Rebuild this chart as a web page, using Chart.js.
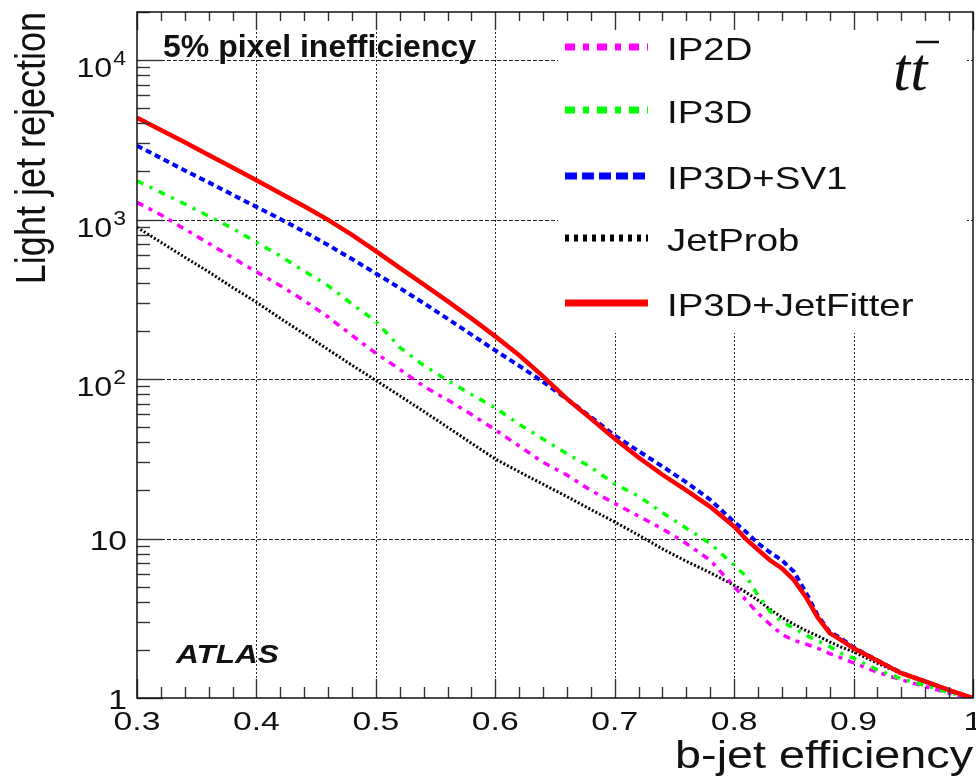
<!DOCTYPE html>
<html>
<head>
<meta charset="utf-8">
<script src="https://cdn.jsdelivr.net/npm/chart.js@4.4.0/dist/chart.umd.min.js"></script>
<style>
  body { margin: 0; background: #fff; }
</style>
</head>
<body>
<canvas id="rocChart" width="976" height="782"></canvas>
<script>
// b-jet efficiency sampling points
const effs = [0.30, 0.32, 0.34, 0.36, 0.38, 0.40, 0.42, 0.44, 0.46, 0.48,
  0.50, 0.52, 0.54, 0.56, 0.58, 0.60, 0.62, 0.64, 0.66, 0.68,
  0.70, 0.72, 0.74, 0.76, 0.78, 0.80, 0.81, 0.82, 0.83, 0.84,
  0.85, 0.86, 0.87, 0.88, 0.89, 0.90, 0.92, 0.94, 0.96, 0.98, 1.00];

// light jet rejection
const ip2d = [1280, 1070, 870, 710, 575, 470, 385, 310, 245, 188,
  145, 115, 90, 74, 60, 48, 38, 30, 25, 20,
  16.6, 13.8, 11.5, 9.3, 7.3, 5.0, 4.1, 3.4, 2.9, 2.5,
  2.3, 2.18, 2.05, 1.9, 1.78, 1.66, 1.45, 1.3, 1.18, 1.07, 1.0];
const ip3d = [1750, 1480, 1250, 1050, 880, 720, 590, 475, 385, 295,
  230, 158, 122, 98, 80, 66, 52, 42, 34, 28,
  22, 18.4, 14.5, 11.6, 9.3, 6.8, 5.8, 4.4, 3.5, 3.0,
  2.75, 2.48, 2.28, 2.1, 1.9, 1.78, 1.5, 1.32, 1.2, 1.08, 1.0];
const ip3dSv1 = [2900, 2430, 2030, 1710, 1430, 1200, 1007, 838, 692, 565,
  459, 372, 299, 239, 190, 151, 121, 96, 75, 57.8,
  44.2, 35.3, 28.3, 22.5, 17.5, 12.7, 11, 9.3, 8.2, 7.3,
  6.2, 4.6, 3.3, 2.6, 2.35, 2.08, 1.72, 1.44, 1.27, 1.12, 1.0];
const jetProb = [894, 720, 580, 470, 375, 303, 240, 192, 153, 122,
  98, 78.5, 62.7, 49.9, 39.6, 31.5, 26.2, 21.9, 18.3, 15.2,
  12.7, 10.5, 8.6, 7.2, 6.1, 5.1, 4.6, 4.1, 3.6, 3.2,
  2.9, 2.65, 2.45, 2.25, 2.08, 1.95, 1.65, 1.42, 1.25, 1.1, 1.0];
const jetFitter = [4350, 3640, 3050, 2540, 2120, 1760, 1460, 1210, 995, 800,
  634, 498, 392, 308, 240, 185, 141, 104, 75, 56.5,
  42.2, 32.2, 25.1, 20, 15.8, 11.9, 9.9, 8.5, 7.3, 6.5,
  5.5, 4.3, 3.2, 2.55, 2.3, 2.05, 1.71, 1.43, 1.27, 1.12, 1.0];

const seriesNames = ['IP2D', 'IP3D', 'IP3D+SV1', 'JetProb', 'IP3D+JetFitter'];
const xTicks = [0.3, 0.4, 0.5, 0.6, 0.7, 0.8, 0.9, 1.0];
const xTickLabels = ['0.3', '0.4', '0.5', '0.6', '0.7', '0.8', '0.9', '1'];
const yTicks = [1, 10, 100, 1000, 10000];
const yTickLabels = ['1', '10', '10^2', '10^3', '10^4'];

function series(label, vals, color, dash, width) {
  return {
    label: label,
    data: effs.map((e, i) => ({ x: e, y: vals[i] })),
    borderColor: color,
    borderDash: dash,
    borderWidth: width,
    pointRadius: 0,
    fill: false,
    tension: 0
  };
}

const datasets = [
  series(seriesNames[4], jetFitter, '#ff0000', [], 4.5),
  series(seriesNames[2], ip3dSv1, '#0000ff', [6, 4], 4),
  series(seriesNames[1], ip3d, '#00ff00', [7, 7, 3, 7], 3.5),
  series(seriesNames[0], ip2d, '#ff00ff', [7, 6, 4, 6], 3.5),
  series(seriesNames[3], jetProb, '#000000', [2, 2], 3)
];

// legend order and sample styles (top to bottom)
const legendRows = [
  { name: 'IP2D', color: '#ff00ff', dash: [10, 8, 6, 8] },
  { name: 'IP3D', color: '#00ff00', dash: [10, 8, 6, 8] },
  { name: 'IP3D+SV1', color: '#0000ff', dash: [12, 5] },
  { name: 'JetProb', color: '#000000', dash: [4, 5] },
  { name: 'IP3D+JetFitter', color: '#ff0000', dash: [] }
];

function txt(ctx, s, x, y, font, align, sx) {
  ctx.save();
  ctx.translate(x, y);
  ctx.scale(sx, 1);
  ctx.font = font;
  ctx.textAlign = align;
  ctx.textBaseline = 'alphabetic';
  ctx.fillText(s, 0, 0);
  ctx.restore();
}

const rootFrame = {
  id: 'rootFrame',
  beforeDatasetsDraw(chart) {
    const { ctx, chartArea: a, scales: { x, y } } = chart;
    ctx.save();
    ctx.strokeStyle = '#222';
    ctx.lineWidth = 1;
    // vertical grid
    ctx.setLineDash([2, 2]);
    xTicks.slice(1, -1).forEach(v => {
      const px = Math.round(x.getPixelForValue(v)) + 0.5;
      ctx.beginPath(); ctx.moveTo(px, a.top); ctx.lineTo(px, a.bottom); ctx.stroke();
    });
    // horizontal grid
    ctx.setLineDash([4, 2]);
    yTicks.slice(1).forEach(v => {
      const py = Math.round(y.getPixelForValue(v)) + 0.5;
      ctx.beginPath(); ctx.moveTo(a.left, py); ctx.lineTo(a.right, py); ctx.stroke();
    });
    ctx.setLineDash([]);
    // legend pad
    ctx.fillStyle = '#fff';
    ctx.fillRect(558, a.top + 1, 967 - 558, 333 - a.top - 1);
    ctx.restore();
  },
  afterDraw(chart) {
    const { ctx, chartArea: a, scales: { x, y } } = chart;
    ctx.save();
    ctx.strokeStyle = '#333';
    ctx.lineWidth = 1.4;
    // x ticks, bottom and top, every 0.02
    for (let k = 0; k <= 35; k++) {
      const v = 0.3 + k * 0.02;
      const px = Math.round(x.getPixelForValue(v)) + 0.5;
      const major = k % 5 === 0;
      ctx.beginPath();
      ctx.moveTo(px, a.bottom); ctx.lineTo(px, a.bottom - (major ? 19 : 11));
      ctx.moveTo(px, a.top); ctx.lineTo(px, a.top + (major ? 18 : 9));
      ctx.stroke();
    }
    // y ticks, log decades
    for (let d = 0; d <= 4; d++) {
      for (let m = 1; m <= 9; m++) {
        const v = m * Math.pow(10, d);
        if (v > y.max) break;
        const py = Math.round(y.getPixelForValue(v)) + 0.5;
        ctx.beginPath();
        ctx.moveTo(a.left, py); ctx.lineTo(a.left + (m === 1 ? 26 : 13), py);
        ctx.stroke();
      }
    }
    // frame
    ctx.strokeStyle = '#111';
    ctx.lineWidth = 1.5;
    ctx.strokeRect(a.left, a.top, a.right - a.left, a.bottom - a.top);

    ctx.fillStyle = '#111';
    const lab = '"Liberation Sans", Arial, sans-serif';
    // x tick labels
    xTicks.forEach((v, i) => {
      txt(ctx, xTickLabels[i], x.getPixelForValue(v), 730, '25px ' + lab, 'center', 1.35);
    });
    // y tick labels
    yTicks.forEach((v, i) => {
      const py = y.getPixelForValue(v);
      const parts = yTickLabels[i].split('^');
      if (parts.length === 2) {
        ctx.font = '20px ' + lab;
        const ew = ctx.measureText(parts[1]).width * 1.15;
        txt(ctx, parts[1], 126, py + 5, '20px ' + lab, 'right', 1.15);
        txt(ctx, parts[0], 126 - ew - 1, py + 17, '28px ' + lab, 'right', 1.15);
      } else {
        txt(ctx, parts[0], 127, py + 11, '28px ' + lab, 'right', 1.2);
      }
    });
    // axis titles
    txt(ctx, 'b-jet efficiency', 973, 768, '38px ' + lab, 'right', 1.23);
    ctx.save();
    ctx.translate(45, 12);
    ctx.rotate(-Math.PI / 2);
    ctx.scale(1, 1.2);
    ctx.font = '36px ' + lab;
    ctx.textAlign = 'right';
    ctx.fillText('Light jet rejection', 0, 0);
    ctx.restore();

    // annotations
    txt(ctx, '5% pixel inefficiency', 163, 57, 'bold 32px ' + lab, 'left', 1.0);
    txt(ctx, 'ATLAS', 176, 663, 'italic bold 25px ' + lab, 'left', 1.26);
    ctx.font = 'italic 62px "Liberation Serif", "Times New Roman", serif';
    ctx.textAlign = 'left';
    ctx.fillText('tt', 893, 90);
    ctx.strokeStyle = '#111';
    ctx.lineWidth = 2.5;
    ctx.beginPath(); ctx.moveTo(916, 42); ctx.lineTo(939, 42); ctx.stroke();

    // legend
    const rowY = [47, 110, 176, 238, 303];
    legendRows.forEach((r, i) => {
      ctx.save();
      ctx.strokeStyle = r.color;
      ctx.lineWidth = 7;
      ctx.setLineDash(r.dash);
      ctx.beginPath(); ctx.moveTo(565, rowY[i]); ctx.lineTo(648, rowY[i]); ctx.stroke();
      ctx.restore();
      ctx.fillStyle = '#111';
      txt(ctx, r.name, 667, rowY[i] + 13, '32px ' + lab, 'left', 1.2);
    });
    ctx.restore();
  }
};

new Chart(document.getElementById('rocChart'), {
  type: 'line',
  data: { datasets: datasets },
  options: {
    responsive: false,
    animation: false,
    layout: { padding: { top: 12, right: 3, left: 0, bottom: 0 } },
    plugins: { legend: { display: false }, tooltip: { enabled: false } },
    scales: {
      x: {
        type: 'linear', min: 0.3, max: 1.0,
        grid: { display: false }, border: { display: false },
        ticks: { display: false },
        afterFit: s => { s.height = 84; }
      },
      y: {
        type: 'logarithmic', min: 1, max: 20000,
        grid: { display: false }, border: { display: false },
        ticks: { display: false },
        afterFit: s => { s.width = 137; }
      }
    }
  },
  plugins: [rootFrame]
});
</script>
</body>
</html>
